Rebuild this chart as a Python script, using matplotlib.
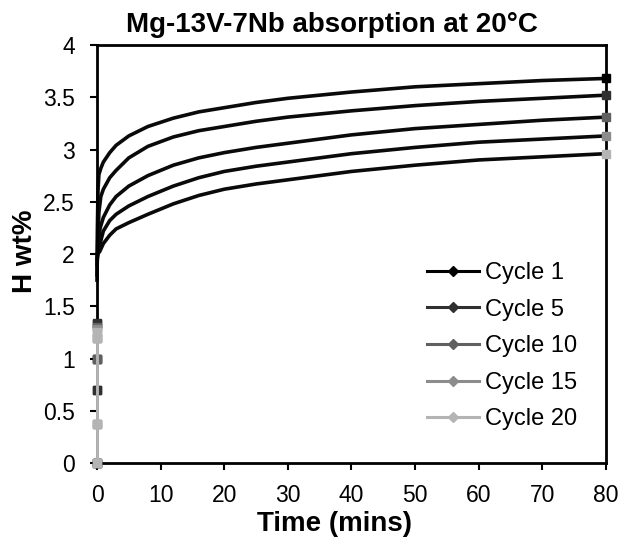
import matplotlib
matplotlib.use("Agg")
import matplotlib.pyplot as plt
from matplotlib.lines import Line2D

plt.rcParams["font.family"] = ["Liberation Sans", "DejaVu Sans"]

labels = ["Cycle 1", "Cycle 5", "Cycle 10", "Cycle 15", "Cycle 20"]
colors = ["#000000", "#303030", "#606060", "#8c8c8c", "#b4b4b4"]

# step at t = 0 (time in minutes, H wt%)
step_t = [
    [0, 0, 0, 0],
    [0, 0, 0, 0],
    [0, 0, 0, 0, 0],
    [0, 0, 0, 0],
    [0, 0, 0, 0],
]
step_h = [
    [0, 0.70, 1.00, 1.33],
    [0, 0.70, 1.00, 1.34],
    [0, 0.37, 1.00, 1.20, 1.30],
    [0, 0.37, 1.20, 1.28],
    [0, 0.37, 1.20, 1.25],
]

# absorption curves after the step
curve_t = [
    [0, 0.05, 0.15, 0.3, 0.6, 1, 2, 3, 5, 8, 12, 16, 20, 25, 30, 40, 50, 60, 70, 80],
    [0, 0.1, 0.3, 0.6, 1, 2, 3, 5, 8, 12, 16, 20, 25, 30, 40, 50, 60, 70, 80],
    [0, 0.2, 0.5, 1, 2, 3, 5, 8, 12, 16, 20, 25, 30, 40, 50, 60, 70, 80],
    [0, 0.3, 0.7, 1, 2, 3, 5, 8, 12, 16, 20, 25, 30, 40, 50, 60, 70, 80],
    [0, 0.4, 1, 2, 3, 5, 8, 12, 16, 20, 25, 30, 40, 50, 60, 70, 80],
]
curve_h = [
    [1.75, 2.20, 2.60, 2.76, 2.82, 2.88, 2.97, 3.04, 3.13, 3.22, 3.30, 3.36, 3.40, 3.45, 3.49, 3.55, 3.60, 3.63, 3.66, 3.68],
    [1.80, 2.10, 2.40, 2.55, 2.62, 2.73, 2.80, 2.92, 3.03, 3.12, 3.18, 3.22, 3.27, 3.31, 3.37, 3.42, 3.46, 3.49, 3.52],
    [1.90, 2.10, 2.25, 2.35, 2.47, 2.55, 2.65, 2.75, 2.85, 2.92, 2.97, 3.02, 3.06, 3.14, 3.20, 3.24, 3.28, 3.31],
    [1.95, 2.05, 2.15, 2.22, 2.32, 2.38, 2.46, 2.55, 2.65, 2.73, 2.79, 2.84, 2.88, 2.96, 3.02, 3.07, 3.10, 3.13],
    [2.00, 2.02, 2.10, 2.18, 2.24, 2.30, 2.38, 2.48, 2.56, 2.62, 2.67, 2.71, 2.79, 2.85, 2.90, 2.93, 2.96],
]


def main() -> None:
    fig = plt.figure(figsize=(6.23, 5.37), dpi=100)
    ax = fig.add_axes([0.1557, 0.1378, 0.8170, 0.7784])

    for i in range(len(labels)):
        ax.plot(curve_t[i], curve_h[i], color="#0a0a0a", linewidth=2.6, zorder=2, clip_on=False)
        ax.plot(curve_t[i][-1:], curve_h[i][-1:], "s", color=colors[i], markersize=6,
                zorder=3, clip_on=False)
    for i in range(len(labels)):
        ax.plot(step_t[i], step_h[i], color=colors[i], marker="s", markersize=6,
                linewidth=2.0, zorder=4 + i, clip_on=False)

    handles = [
        Line2D([], [], color=c, marker="D", markersize=5, linewidth=2.2)
        for c in colors
    ]
    ax.legend(handles, labels, loc="upper left", bbox_to_anchor=(0.648, 0.481),
              frameon=False, fontsize=17, handlelength=2.2, handletextpad=0.25,
              labelspacing=0.62, borderaxespad=0, borderpad=0)

    ax.set_xlim(0, 80)
    ax.set_ylim(0, 4)
    ax.set_xticks(range(0, 81, 10))
    ax.set_yticks([0, 0.5, 1, 1.5, 2, 2.5, 3, 3.5, 4])
    ax.set_yticklabels(["0", "0.5", "1", "1.5", "2", "2.5", "3", "3.5", "4"])
    ax.tick_params(direction="out", length=5, width=1.5, labelsize=16.5)
    ax.tick_params(axis="x", pad=10)
    ax.tick_params(axis="y", pad=11)
    for spine in ax.spines.values():
        spine.set_linewidth(2)

    # chart title, a little left of the plot centre as in the original
    fig.text(332 / 623, 1 - 32 / 537, "Mg-13V-7Nb absorption at 20°C", fontsize=20,
             fontweight="bold", ha="center", va="baseline")
    ax.set_xlabel("Time (mins)", fontsize=20, fontweight="bold")
    ax.xaxis.set_label_coords((335 - 97) / 509, -(524 - 463) / 418)
    ax.xaxis.label.set_va("center")
    ax.set_ylabel("H wt%", fontsize=20, fontweight="bold")
    ax.yaxis.set_label_coords((25 - 97) / 509, (463 - 251) / 418)
    ax.yaxis.label.set_va("center")

    fig.savefig("out.png", dpi=100)
    plt.close(fig)


if __name__ == "__main__":
    main()
